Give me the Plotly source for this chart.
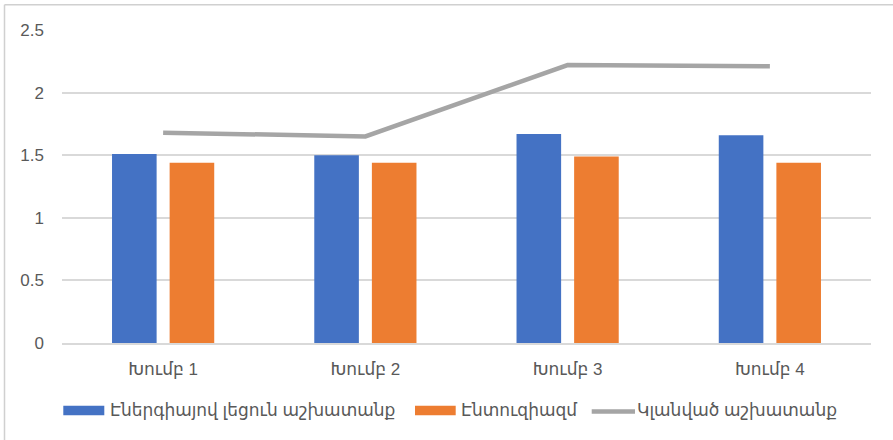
import plotly.graph_objects as go

# Data
categories = ["Խումբ 1", "Խումբ 2", "Խումբ 3", "Խումբ 4"]
series_names = ["Էներգիայով լեցուն աշխատանք", "Էնտուզիազմ", "Կլանված աշխատանք"]
energy = [1.51, 1.50, 1.67, 1.66]
enthusiasm = [1.44, 1.44, 1.49, 1.44]
engaged = [1.68, 1.65, 2.22, 2.21]
y_ticks = [0, 0.5, 1, 1.5, 2, 2.5]
y_tick_text = ["0", "0.5", "1", "1.5", "2", "2.5"]

BLUE = "#4472C4"
ORANGE = "#ED7D31"
GRAY = "#A5A5A5"
TEXT = "#595959"
GRID = "#D9D9D9"
FONT = "Liberation Sans, DejaVu Sans, sans-serif"
FS = 17

W, H = 893, 440
L, R, T, B = 62, 22, 29.7, 97.3
PW, PH = W - L - R, H - T - B


def px_x(x):
    return (x - L) / PW


def px_y(y):
    return (H - B - y) / PH


fig = go.Figure()
fig.add_trace(go.Bar(x=categories, y=energy, name=series_names[0],
                     marker=dict(color=BLUE, line=dict(width=0))))
fig.add_trace(go.Bar(x=categories, y=enthusiasm, name=series_names[1],
                     marker=dict(color=ORANGE, line=dict(width=0))))
fig.add_trace(go.Scatter(x=categories, y=engaged, name=series_names[2],
                         mode="lines", line=dict(color=GRAY, width=4.5)))

# Legend drawn underneath the plot: swatch + label per series
legend_items = [
    (series_names[0], BLUE, "bar", 63.3, 104.3, 110),
    (series_names[1], ORANGE, "bar", 415, 455.7, 461),
    (series_names[2], GRAY, "line", 591.7, 635, 637),
]
shapes = []
annotations = []
for name, color, kind, x0, x1, tx in legend_items:
    if kind == "bar":
        shapes.append(dict(type="rect", xref="paper", yref="paper",
                           x0=px_x(x0), x1=px_x(x1), y0=px_y(405.5), y1=px_y(415),
                           fillcolor=color, line=dict(width=0)))
    else:
        shapes.append(dict(type="line", xref="paper", yref="paper",
                           x0=px_x(x0), x1=px_x(x1), y0=px_y(411.3), y1=px_y(411.3),
                           line=dict(color=color, width=4.5)))
    annotations.append(dict(text=name, xref="paper", yref="paper",
                            x=px_x(tx), y=px_y(410.5), xanchor="left", yanchor="middle",
                            xshift=-2, showarrow=False,
                            font=dict(family=FONT, size=FS, color=TEXT)))

# Outer chart frame (left and top edges)
shapes.append(dict(type="line", xref="paper", yref="paper",
                   x0=px_x(4.5), x1=px_x(4.5), y0=px_y(4.5), y1=px_y(450),
                   line=dict(color="#D0D0D0", width=1.5)))
shapes.append(dict(type="line", xref="paper", yref="paper",
                   x0=px_x(4.5), x1=px_x(900), y0=px_y(4.5), y1=px_y(4.5),
                   line=dict(color="#D0D0D0", width=1.5)))

fig.update_layout(
    width=W, height=H,
    margin=dict(l=L, r=R, t=T, b=B),
    paper_bgcolor="white", plot_bgcolor="white",
    barmode="group", bargap=0.4304, bargroupgap=0.2257,
    showlegend=False,
    font=dict(family=FONT, size=FS, color=TEXT),
    shapes=shapes, annotations=annotations,
)
fig.update_xaxes(showgrid=False, showline=True, linecolor=GRID, linewidth=1.5,
                 ticks="", ticklabelstandoff=10,
                 tickfont=dict(family=FONT, size=FS, color=TEXT))
fig.update_yaxes(range=[0, 2.5], tickvals=y_ticks, ticktext=y_tick_text,
                 showgrid=True, gridcolor=GRID, gridwidth=1.5, zeroline=False,
                 showline=False, ticks="", ticklabelstandoff=17,
                 tickfont=dict(family=FONT, size=FS, color=TEXT))

fig.write_html("out.html")
